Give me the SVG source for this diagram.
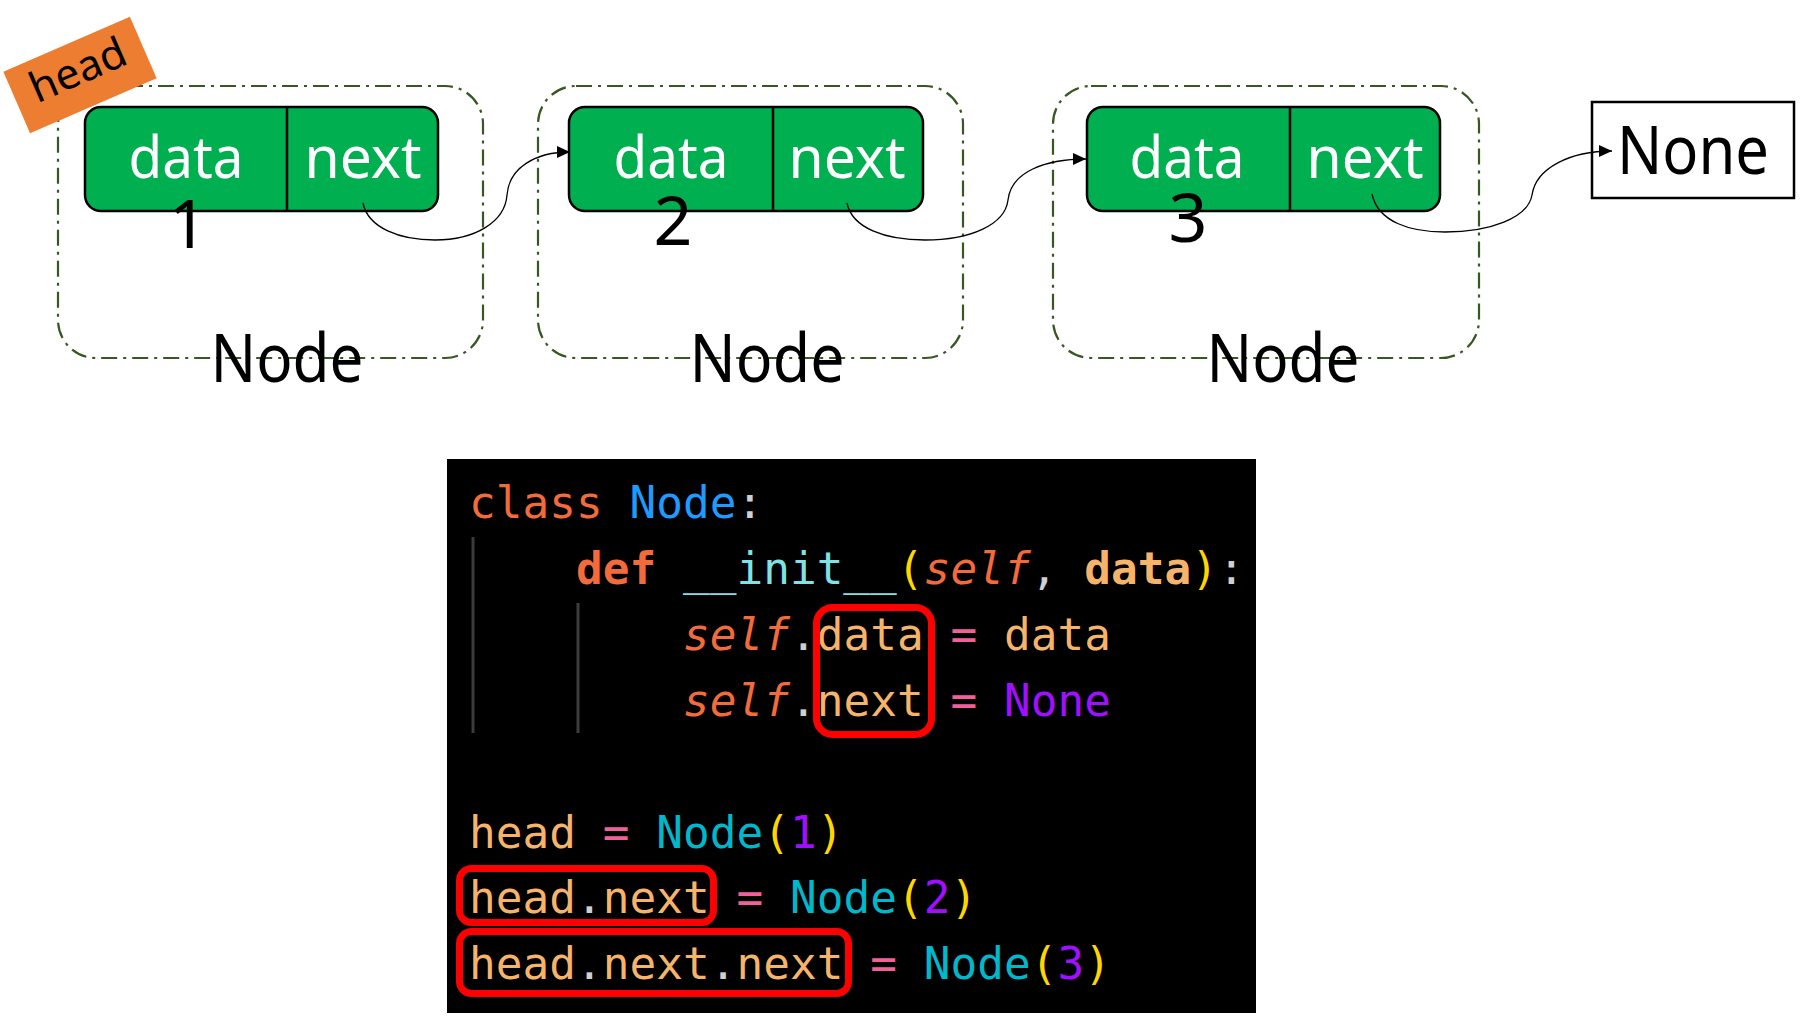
<svg xmlns="http://www.w3.org/2000/svg" width="1807" height="1024" viewBox="0 0 1807 1024">
<defs>
<marker id="arr" markerUnits="userSpaceOnUse" markerWidth="14" markerHeight="12" refX="13" refY="6" orient="auto">
<path d="M0,0 L13,6 L0,12 Z" fill="#000"/>
</marker>
<style>
.frame{fill:none;stroke:#385723;stroke-width:2.2;stroke-dasharray:16 6 3 6;}
.cell{fill:#00B050;stroke:#000;stroke-width:2.5;}
.div{stroke:#000;stroke-width:2.5;}
.lbl{font-family:"Noto Sans","Open Sans","Liberation Sans",sans-serif;}
.w{fill:#fff;font-size:59px;}
.num{fill:#000;font-size:68px;}
.big{fill:#000;font-size:68px;}
.conn{fill:none;stroke:#000;stroke-width:1.3;}
.code{font-family:"DejaVu Sans Mono","Liberation Mono",monospace;font-size:44.4px;}
.kw{fill:#F26B3A;}
.cls{fill:#1E9BFF;}
.pn{fill:#D0D0D0;}
.fn{fill:#7FE3E6;}
.par{fill:#FFD700;}
.it{fill:#F26B3A;font-style:italic;}
.var{fill:#F5B46A;}
.op{fill:#F0609A;}
.cst{fill:#A010FF;}
.call{fill:#00B8CC;}
.hl{fill:none;stroke:#FF0000;stroke-width:7;}
.guide{stroke:#3C3C3C;stroke-width:3;}
</style>
</defs>
<rect width="1807" height="1024" fill="#fff"/>

<g id="node1">
<rect class="frame" x="58" y="86" width="425" height="272" rx="38"/>
<rect class="cell" x="85" y="107" width="353" height="104" rx="16"/>
<line class="div" x1="287" y1="107" x2="287" y2="211"/>
<text class="lbl w" x="186" y="178" text-anchor="middle" textLength="115" lengthAdjust="spacingAndGlyphs">data</text>
<text class="lbl w" x="363" y="178" text-anchor="middle" textLength="117" lengthAdjust="spacingAndGlyphs">next</text>
<text class="lbl num" x="188" y="248" text-anchor="middle">1</text>
<text class="lbl big" x="287" y="382" text-anchor="middle" textLength="153" lengthAdjust="spacingAndGlyphs">Node</text>
</g>

<g id="node2">
<rect class="frame" x="538" y="86" width="425" height="272" rx="38"/>
<rect class="cell" x="569" y="107" width="354" height="104" rx="16"/>
<line class="div" x1="773" y1="107" x2="773" y2="211"/>
<text class="lbl w" x="671" y="178" text-anchor="middle" textLength="115" lengthAdjust="spacingAndGlyphs">data</text>
<text class="lbl w" x="847" y="178" text-anchor="middle" textLength="117" lengthAdjust="spacingAndGlyphs">next</text>
<text class="lbl num" x="673" y="245" text-anchor="middle">2</text>
<text class="lbl big" x="767" y="382" text-anchor="middle" textLength="155" lengthAdjust="spacingAndGlyphs">Node</text>
</g>

<g id="node3">
<rect class="frame" x="1053" y="86" width="426" height="272" rx="38"/>
<rect class="cell" x="1087" y="107" width="353" height="104" rx="16"/>
<line class="div" x1="1290" y1="107" x2="1290" y2="211"/>
<text class="lbl w" x="1187" y="178" text-anchor="middle" textLength="115" lengthAdjust="spacingAndGlyphs">data</text>
<text class="lbl w" x="1365" y="178" text-anchor="middle" textLength="117" lengthAdjust="spacingAndGlyphs">next</text>
<text class="lbl num" x="1188" y="242" text-anchor="middle">3</text>
<text class="lbl big" x="1283" y="382" text-anchor="middle" textLength="153" lengthAdjust="spacingAndGlyphs">Node</text>
</g>

<g id="none-box">
<rect x="1592" y="102" width="202" height="96" fill="#fff" stroke="#000" stroke-width="2.5"/>
<text class="lbl big" x="1693" y="174" text-anchor="middle" textLength="152" lengthAdjust="spacingAndGlyphs">None</text>
</g>

<g id="head-label" transform="translate(80,75) rotate(-23.5)">
<rect x="-69" y="-33.5" width="138" height="67" fill="#ED7D31"/>
<text class="lbl" x="0" y="9" text-anchor="middle" font-size="42" fill="#000" textLength="101" lengthAdjust="spacingAndGlyphs">head</text>
</g>

<g id="connectors">
<path class="conn" marker-end="url(#arr)" d="M363,203 C368,228 400,240 435,240 C475,240 505,222 507,195 C509,168 535,152 570,152"/>
<path class="conn" marker-end="url(#arr)" d="M847,203 C852,228 885,240 925,240 C970,240 1005,225 1008,200 C1011,172 1045,159 1086,159"/>
<path class="conn" marker-end="url(#arr)" d="M1372,194 C1378,222 1410,232 1445,232 C1490,232 1528,218 1532,195 C1536,168 1570,151 1612,151"/>
</g>

<g id="code-panel">
<rect x="447" y="459" width="809" height="554" fill="#000"/>
<line class="guide" x1="473" y1="537" x2="473" y2="733"/>
<line class="guide" x1="578" y1="603" x2="578" y2="733"/>
<text class="code" y="518"><tspan class="kw" x="469">class</tspan><tspan class="cls" x="629.5">Node</tspan><tspan class="pn" x="736.5">:</tspan></text>
<text class="code" y="584"><tspan class="kw" x="576" font-weight="bold">def</tspan><tspan class="fn" x="683">__init__</tspan><tspan class="par" x="897">(</tspan><tspan class="it" x="923.75">self</tspan><tspan class="pn" x="1030.75">,</tspan><tspan class="var" x="1084.25" font-weight="bold">data</tspan><tspan class="par" x="1191.25">)</tspan><tspan class="pn" x="1218">:</tspan></text>
<text class="code" y="650"><tspan class="it" x="683">self</tspan><tspan class="pn" x="790">.</tspan><tspan class="var" x="816.75">data</tspan><tspan class="op" x="950.5">=</tspan><tspan class="var" x="1004">data</tspan></text>
<text class="code" y="716"><tspan class="it" x="683">self</tspan><tspan class="pn" x="790">.</tspan><tspan class="var" x="816.75">next</tspan><tspan class="op" x="950.5">=</tspan><tspan class="cst" x="1004">None</tspan></text>
<text class="code" y="848"><tspan class="var" x="469">head</tspan><tspan class="op" x="602.75">=</tspan><tspan class="call" x="656.25">Node</tspan><tspan class="par" x="763.25">(</tspan><tspan class="cst" x="790">1</tspan><tspan class="par" x="816.75">)</tspan></text>
<text class="code" y="913"><tspan class="var" x="469">head</tspan><tspan class="pn" x="576">.</tspan><tspan class="var" x="602.75">next</tspan><tspan class="op" x="736.5">=</tspan><tspan class="call" x="790">Node</tspan><tspan class="par" x="897">(</tspan><tspan class="cst" x="923.75">2</tspan><tspan class="par" x="950.5">)</tspan></text>
<text class="code" y="979"><tspan class="var" x="469">head</tspan><tspan class="pn" x="576">.</tspan><tspan class="var" x="602.75">next</tspan><tspan class="pn" x="709.75">.</tspan><tspan class="var" x="736.5">next</tspan><tspan class="op" x="870.25">=</tspan><tspan class="call" x="923.75">Node</tspan><tspan class="par" x="1030.75">(</tspan><tspan class="cst" x="1057.5">3</tspan><tspan class="par" x="1084.25">)</tspan></text>
<rect class="hl" x="816.5" y="607.5" width="115" height="127" rx="16"/>
<rect class="hl" x="459.5" y="868.5" width="254" height="54" rx="12"/>
<rect class="hl" x="459.5" y="931.5" width="389" height="62" rx="12"/>
</g>
</svg>
